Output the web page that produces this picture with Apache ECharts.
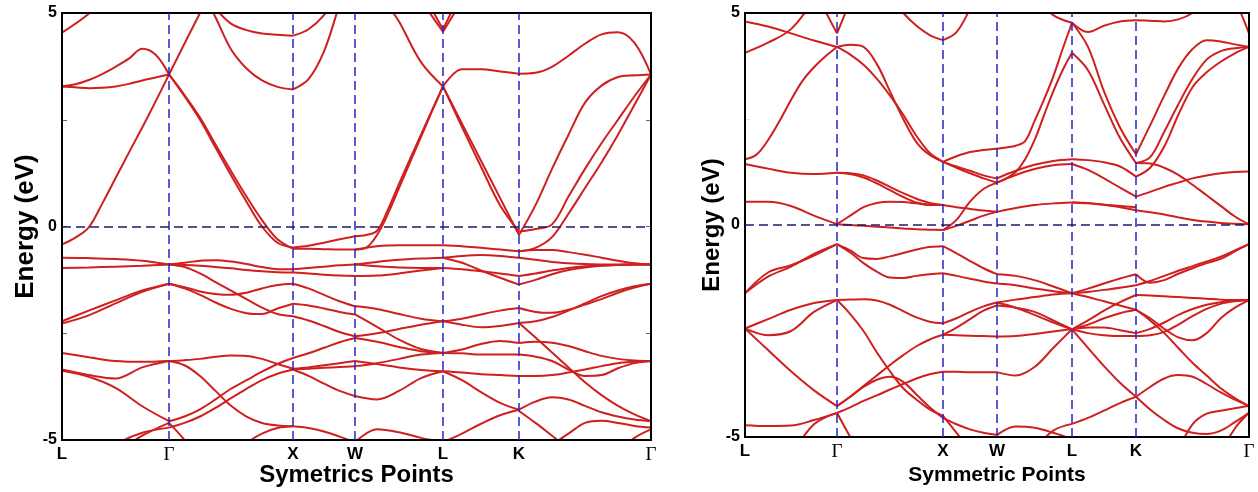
<!DOCTYPE html>
<html>
<head>
<meta charset="utf-8">
<title>Band structure</title>
<script src="https://cdn.jsdelivr.net/npm/echarts@6.0.0/dist/echarts.min.js"></script>
<style>
  html, body { margin: 0; padding: 0; background: #fff; }
  #main { width: 1258px; height: 492px; }
</style>
</head>
<body>
<div id="main"></div>
<script>
// k-path: positions of the high symmetry points along the path
var kLeft = [0, 107, 231, 293, 381, 457, 589];
var kRight = [0, 92, 198, 252, 327, 391, 504];
var kNames = ['L', 'Γ', 'X', 'W', 'L', 'K', 'Γ'];
var energyLabels = [-5, 0, 5];

// ---- left panel: one array per segment, each row = one band (eV), evenly sampled
var leftLG = [
  [4.54, 4.98, 5.6, 6.2, 6.8],
  [3.28, 3.33, 3.43, 3.57, 3.74, 3.93, 4.16, 4.02, 3.56],
  [3.28, 3.26, 3.24, 3.25, 3.28, 3.34, 3.42, 3.49, 3.56],
  [-0.42, -0.26, -0.02, 0.53, 1.13, 1.73, 2.32, 2.93, 3.56],
  [-0.73, -0.74, -0.76, -0.8, -0.89],
  [-0.97, -0.96, -0.94, -0.92, -0.89],
  [-2.22, -1.97, -1.73, -1.5, -1.34],
  [-2.27, -2.08, -1.8, -1.53, -1.34],
  [-2.96, -3.06, -3.15, -3.17, -3.15],
  [-3.35, -3.48, -3.56, -3.3, -3.15],
  [-3.38, -3.52, -3.78, -4.21, -4.56],
  [-5.8, -5.5, -5.1, -4.83, -4.71],
  [-6, -5.7, -5.3, -4.9, -4.6]
];
var leftGX = [
  [3.56, 5.0, 6.4, 7.8, 9],
  [3.56, 3.05, 2.5, 1.85, 1.2, 0.58, 0.0, -0.38, -0.49],
  [3.56, 3.08, 2.55, 1.92, 1.3, 0.7, 0.15, -0.3, -0.52],
  [6.5, 6.0, 5.5, 5.1, 4.75, 4.6, 4.52, 4.49, 4.47],
  [7, 6.3, 5.6, 4.9, 4.15, 3.7, 3.42, 3.27, 3.21],
  [-0.89, -0.85, -0.8, -0.79, -0.82, -0.88, -0.95, -1.0, -1.0],
  [-0.89, -0.9, -0.92, -0.95, -0.98, -1.02, -1.05, -1.07, -1.08],
  [-0.89, -0.95, -1.1, -1.3, -1.5, -1.7, -1.9, -2.05, -2.1],
  [-1.34, -1.42, -1.52, -1.58, -1.6, -1.55, -1.45, -1.37, -1.34],
  [-1.34, -1.45, -1.6, -1.78, -1.93, -2.03, -2.05, -1.92, -1.81],
  [-3.15, -3.13, -3.1, -3.05, -3.02, -3.03, -3.1, -3.22, -3.33],
  [-3.15, -3.25, -3.5, -3.85, -4.2, -4.45, -4.6, -4.66, -4.68],
  [-4.56, -4.45, -4.28, -4.05, -3.8, -3.6, -3.4, -3.22, -3.08],
  [-4.71, -4.6, -4.45, -4.25, -4.02, -3.8, -3.6, -3.45, -3.35],
  [-4.6, -5.0, -5.5, -6, -6.3, -6.5, -6.6, -6.6, -6.6],
  [-7, -7, -7, -6.5, -5.8, -5.1, -4.85, -4.72, -4.68]
];
var leftXW = [
  [4.47, 4.62, 4.95, 5.5, 6],
  [3.21, 3.45, 4.1, 5.2, 6.3],
  [-0.49, -0.45, -0.38, -0.3, -0.23],
  [-0.52, -0.52, -0.53, -0.54, -0.54],
  [-1.0, -0.97, -0.94, -0.91, -0.89],
  [-1.08, -1.1, -1.13, -1.15, -1.16],
  [-1.34, -1.45, -1.6, -1.75, -1.87],
  [-1.81, -1.85, -1.92, -2.0, -2.06],
  [-2.1, -2.2, -2.33, -2.47, -2.57],
  [-3.08, -2.97, -2.84, -2.71, -2.61],
  [-3.33, -3.3, -3.25, -3.2, -3.15],
  [-3.35, -3.33, -3.31, -3.29, -3.27],
  [-3.35, -3.5, -3.68, -3.85, -3.97],
  [-4.68, -4.72, -4.8, -4.92, -5.05]
];
var leftWL = [
  [7, 5.6, 4.8, 3.85, 3.28],
  [8, 7, 6.1, 5.3, 4.56],
  [9, 8, 7, 5.6, 4.62],
  [-0.23, -0.2, -0.1, 0.4, 1.0, 1.58, 2.15, 2.72, 3.28],
  [-0.54, -0.5, -0.2, 0.3, 0.9, 1.5, 2.1, 2.7, 3.28],
  [-0.54, -0.46, -0.44, -0.44, -0.44],
  [-0.89, -0.83, -0.78, -0.75, -0.73],
  [-0.89, -0.93, -0.96, -0.97, -0.97],
  [-1.16, -1.15, -1.1, -1.03, -0.97],
  [-1.87, -1.93, -2.05, -2.16, -2.22],
  [-2.06, -2.35, -2.65, -2.87, -2.96],
  [-2.57, -2.5, -2.4, -2.3, -2.22],
  [-2.61, -2.7, -2.82, -2.92, -2.96],
  [-3.15, -3.22, -3.3, -3.36, -3.39],
  [-3.27, -3.2, -3.1, -3.0, -2.96],
  [-3.97, -4.05, -3.85, -3.55, -3.39],
  [-5.05, -4.75, -4.82, -4.95, -5.05]
];
var leftLK = [
  [3.28, 3.68, 3.68, 3.63, 3.58],
  [3.28, 2.41, 1.54, 0.67, -0.2],
  [3.28, 2.33, 1.4, 0.5, -0.12],
  [4.56, 5.3, 6.1, 7, 8],
  [4.62, 5.6, 7, 8, 9],
  [-0.44, -0.46, -0.5, -0.54, -0.58],
  [-0.73, -0.69, -0.67, -0.69, -0.73],
  [-0.73, -0.85, -1.03, -1.2, -1.36],
  [-0.97, -1.0, -1.05, -1.1, -1.16],
  [-2.22, -2.16, -2.06, -1.97, -1.91],
  [-2.22, -2.3, -2.36, -2.33, -2.26],
  [-2.96, -2.88, -2.75, -2.68, -2.73],
  [-2.96, -2.97, -3.0, -3.0, -3.0],
  [-3.39, -3.42, -3.46, -3.48, -3.5],
  [-3.39, -3.6, -3.88, -4.13, -4.29],
  [-5.05, -4.85, -4.62, -4.42, -4.29]
];
var leftKG = [
  [3.58, 3.6, 3.74, 4.0, 4.28, 4.5, 4.55, 4.3, 3.56],
  [-0.2, 0.5, 1.35, 2.15, 2.9, 3.3, 3.5, 3.54, 3.56],
  [-0.12, -0.06, 0.05, 0.7, 1.35, 1.95, 2.5, 3.05, 3.56],
  [-0.58, -0.5, -0.25, 0.3, 0.9, 1.5, 2.15, 2.85, 3.56],
  [-0.58, -0.55, -0.55, -0.6, -0.66, -0.73, -0.8, -0.86, -0.89],
  [-0.73, -0.78, -0.83, -0.86, -0.88, -0.89, -0.89, -0.89, -0.89],
  [-1.16, -1.1, -1.03, -0.97, -0.93, -0.91, -0.9, -0.89, -0.89],
  [-1.36, -1.25, -1.12, -1.02, -0.96, -0.92, -0.9, -0.89, -0.89],
  [-1.91, -2.0, -2.02, -1.95, -1.83, -1.7, -1.55, -1.43, -1.34],
  [-2.26, -2.22, -2.12, -1.97, -1.8, -1.63, -1.5, -1.4, -1.34],
  [-2.73, -2.7, -2.72, -2.8, -2.92, -3.03, -3.1, -3.14, -3.15],
  [-2.26, -2.6, -2.95, -3.3, -3.65, -3.95, -4.2, -4.4, -4.56],
  [-3.0, -3.05, -3.15, -3.35, -3.5, -3.48, -3.32, -3.2, -3.15],
  [-3.5, -3.5, -3.48, -3.42, -3.35, -3.27, -3.2, -3.17, -3.15],
  [-4.29, -4.1, -4.0, -4.05, -4.2, -4.35, -4.45, -4.52, -4.56],
  [-4.32, -4.6, -4.9, -5.2, -5.5, -5.8, -6, -6, -6],
  [-5.5, -5.3, -5.1, -4.85, -4.6, -4.55, -4.6, -4.67, -4.71],
  [-6, -6, -6, -6, -6, -5.7, -5.3, -4.95, -4.75]
];

// ---- right panel
var rightLG = [
  [4.8, 4.68, 4.52, 4.35, 4.2],
  [4.06, 4.3, 4.62, 5.3, 6.0],
  [1.55, 1.66, 2.0, 2.45, 2.95, 3.4, 3.72, 3.98, 4.2],
  [1.44, 1.33, 1.23, 1.2, 1.23],
  [0.55, 0.55, 0.45, 0.22, 0.02],
  [8, 7.5, 7, 5.6, 4.52],
  [-1.61, -1.22, -0.98, -0.68, -0.45],
  [-1.61, -1.12, -0.95, -0.72, -0.45],
  [-2.44, -2.22, -2.0, -1.84, -1.77],
  [-2.44, -2.6, -2.5, -2.05, -1.77],
  [-2.44, -2.95, -3.45, -3.9, -4.27],
  [-4.72, -4.74, -4.73, -4.6, -4.43],
  [-6.5, -6, -5.4, -4.7, -4.43]
];
var rightGX = [
  [4.52, 5.3, 6.2, 7, 7.5, 7.5, 7.5, 7.5, 7.5],
  [4.2, 4.25, 4.2, 3.8, 3.15, 2.5, 1.95, 1.65, 1.49],
  [4.2, 4.02, 3.78, 3.45, 3.05, 2.6, 2.1, 1.7, 1.49],
  [6.5, 6.3, 6.1, 5.8, 5.4, 5.0, 4.7, 4.48, 4.36],
  [1.23, 1.22, 1.17, 1.05, 0.9, 0.75, 0.62, 0.52, 0.47],
  [1.23, 1.2, 1.12, 0.98, 0.82, 0.66, 0.53, 0.47, 0.47],
  [0.02, 0.22, 0.42, 0.52, 0.55, 0.54, 0.51, 0.48, 0.47],
  [0.02, 0.0, -0.02, -0.04, -0.06, -0.08, -0.1, -0.11, -0.12],
  [-0.45, -0.6, -0.78, -0.8, -0.74, -0.66, -0.58, -0.52, -0.5],
  [-0.45, -0.65, -0.9, -1.1, -1.24, -1.25, -1.2, -1.16, -1.14],
  [-1.77, -1.76, -1.75, -1.78, -1.88, -2.03, -2.18, -2.28, -2.32],
  [-1.77, -2.1, -2.5, -3.0, -3.45, -3.85, -4.12, -4.35, -4.5],
  [-4.27, -4.05, -3.82, -3.65, -3.58, -3.7, -4.0, -4.3, -4.55],
  [-4.43, -4.3, -4.15, -4.02, -3.88, -3.75, -3.62, -3.52, -3.46],
  [-4.27, -4.05, -3.8, -3.55, -3.3, -3.07, -2.86, -2.7, -2.59],
  [-4.43, -5.0, -5.5, -6, -6.3, -6.5, -6.5, -6.5, -6.5]
];
var rightXW = [
  [4.36, 4.55, 5.1, 5.8, 6.5],
  [1.49, 1.62, 1.72, 1.77, 1.8],
  [1.49, 1.35, 1.22, 1.1, 1.0],
  [1.49, 1.38, 1.28, 1.17, 1.1],
  [-0.12, 0.12, 0.55, 0.85, 1.0],
  [0.47, 0.42, 0.38, 0.34, 0.31],
  [-0.12, -0.02, 0.1, 0.22, 0.31],
  [-0.5, -0.67, -0.85, -1.02, -1.16],
  [-1.14, -1.2, -1.27, -1.33, -1.38],
  [-2.32, -2.2, -2.05, -1.92, -1.83],
  [-2.59, -2.6, -2.61, -2.62, -2.63],
  [-2.59, -2.42, -2.22, -2.02, -1.9],
  [-3.46, -3.46, -3.47, -3.47, -3.47],
  [-4.5, -4.9, -5.3, -5.7, -6],
  [-4.55, -4.7, -4.82, -4.9, -4.95]
];
var rightWL = [
  [1.8, 1.83, 1.87, 1.98, 2.45, 2.95, 3.5, 4.15, 4.77],
  [1.0, 1.1, 1.25, 1.55, 2.0, 2.58, 3.15, 3.65, 4.06],
  [1.1, 1.28, 1.42, 1.51, 1.55],
  [1.0, 1.18, 1.32, 1.41, 1.44],
  [0.31, 0.4, 0.47, 0.51, 0.53],
  [7, 6.2, 5.4, 4.95, 4.77],
  [-1.16, -1.2, -1.3, -1.45, -1.61],
  [-1.38, -1.42, -1.5, -1.56, -1.61],
  [-1.83, -1.76, -1.7, -1.64, -1.61],
  [-1.83, -1.95, -2.12, -2.3, -2.46],
  [-1.9, -1.95, -2.05, -2.25, -2.46],
  [-2.63, -2.62, -2.57, -2.51, -2.46],
  [-3.47, -3.55, -3.35, -2.9, -2.46],
  [-4.95, -4.75, -4.78, -4.9, -5.05],
  [-6, -6, -5.3, -4.85, -4.69]
];
var rightLK = [
  [4.77, 4.55, 4.7, 4.8, 4.83],
  [4.77, 4.2, 3.15, 2.3, 1.67],
  [4.06, 3.65, 2.85, 2.05, 1.46],
  [1.55, 1.53, 1.48, 1.38, 1.14],
  [1.44, 1.3, 1.1, 0.88, 0.67],
  [0.53, 0.52, 0.48, 0.42, 0.35],
  [0.53, 0.51, 0.48, 0.45, 0.42],
  [-1.61, -1.5, -1.38, -1.26, -1.16],
  [-1.61, -1.58, -1.53, -1.48, -1.42],
  [-1.61, -1.7, -1.8, -1.9, -2.0],
  [-2.46, -2.25, -2.02, -1.82, -1.65],
  [-2.46, -2.35, -2.2, -2.08, -2.0],
  [-2.46, -2.42, -2.42, -2.48, -2.55],
  [-2.46, -2.55, -2.6, -2.62, -2.62],
  [-2.46, -2.9, -3.33, -3.72, -4.05],
  [-4.69, -4.55, -4.38, -4.2, -4.05]
];
var rightKG = [
  [4.83, 4.82, 4.8, 4.85, 5.0, 5.3, 5.7, 6.2, 6.6],
  [6, 6, 6, 6, 6, 6, 5.8, 5.3, 4.52],
  [1.67, 2.35, 3.05, 3.7, 4.15, 4.36, 4.33, 4.26, 4.2],
  [1.46, 1.6, 2.2, 2.85, 3.45, 3.9, 4.1, 4.17, 4.2],
  [1.14, 1.35, 1.85, 2.6, 3.25, 3.6, 3.85, 4.05, 4.2],
  [1.46, 1.45, 1.35, 1.18, 0.95, 0.7, 0.45, 0.2, 0.02],
  [0.67, 0.78, 0.9, 1.0, 1.1, 1.17, 1.22, 1.25, 1.26],
  [0.35, 0.3, 0.25, 0.18, 0.12, 0.08, 0.05, 0.03, 0.02],
  [-1.16, -1.36, -1.3, -1.15, -1.02, -0.9, -0.8, -0.62, -0.45],
  [-1.42, -1.32, -1.2, -1.08, -0.97, -0.86, -0.75, -0.6, -0.45],
  [-1.65, -1.66, -1.68, -1.7, -1.72, -1.74, -1.76, -1.77, -1.77],
  [-2.0, -2.2, -2.45, -2.65, -2.72, -2.55, -2.2, -1.95, -1.77],
  [-2.0, -2.25, -2.55, -2.9, -3.25, -3.55, -3.85, -4.08, -4.27],
  [-2.55, -2.45, -2.3, -2.12, -1.98, -1.88, -1.82, -1.79, -1.77],
  [-2.62, -2.6, -2.52, -2.35, -2.15, -1.98, -1.86, -1.8, -1.77],
  [-4.05, -3.82, -3.62, -3.54, -3.58, -3.75, -3.95, -4.12, -4.27],
  [-4.05, -4.35, -4.6, -4.8, -4.9, -4.93, -4.85, -4.65, -4.43],
  [-6, -6, -6, -5.3, -4.7, -4.45, -4.38, -4.32, -4.27],
  [-7, -7, -7, -7, -7, -6.5, -5.4, -4.8, -4.43]
];

var leftSegments = [leftLG, leftGX, leftXW, leftWL, leftLK, leftKG];
var rightSegments = [rightLG, rightGX, rightXW, rightWL, rightLK, rightKG];

var bandColor = '#cf1f1f';

function bandSeries(segments, k, axisIdx) {
  var out = [];
  segments.forEach(function (bands, s) {
    var x0 = k[s], x1 = k[s + 1];
    bands.forEach(function (band) {
      var n = band.length;
      out.push({
        type: 'line',
        xAxisIndex: axisIdx,
        yAxisIndex: axisIdx,
        data: band.map(function (e, i) { return [x0 + (x1 - x0) * i / (n - 1), e]; }),
        showSymbol: false,
        smooth: 0.35,
        clip: true,
        silent: true,
        lineStyle: { color: bandColor, width: 2 },
        z: 3
      });
    });
  });
  // dashed guides at the inner k-points and at the Fermi level
  var guides = k.slice(1, -1).map(function (v) {
    return { xAxis: v, lineStyle: { color: '#2424c4', type: [9, 5], width: 1.5 } };
  });
  guides.push({ yAxis: 0, lineStyle: { color: '#1c1c70', type: [9, 5], width: 1.5 } });
  out[0].markLine = {
    silent: true,
    symbol: 'none',
    label: { show: false },
    animation: false,
    data: guides
  };
  return out;
}

function kAxis(k, gridIdx, title, titleSize, gap) {
  return {
    type: 'value',
    gridIndex: gridIdx,
    min: k[0],
    max: k[k.length - 1],
    axisLine: { show: false },
    axisTick: { show: false },
    splitLine: { show: false },
    axisLabel: {
      customValues: k,
      margin: 6,
      formatter: function (v) {
        var name = kNames[k.indexOf(v)];
        return name === 'Γ' ? '{g|Γ}' : '{b|' + name + '}';
      },
      rich: {
        b: { fontSize: 17, fontWeight: 'bold', color: '#000', fontFamily: 'Liberation Sans' },
        g: { fontSize: 19, fontWeight: 'normal', color: '#000', fontFamily: 'Liberation Serif' }
      }
    },
    name: title,
    nameLocation: 'middle',
    nameGap: gap,
    nameMoveOverlap: false,
    nameTextStyle: { fontSize: titleSize, fontWeight: 'bold', color: '#000', fontFamily: 'Liberation Sans' }
  };
}

function energyAxis(gridIdx, titleSize, gap, tickColor) {
  return {
    type: 'value',
    gridIndex: gridIdx,
    min: -5,
    max: 5,
    interval: 2.5,
    axisLine: { show: false },
    splitLine: { show: false },
    axisTick: { show: true, inside: true, length: 5, lineStyle: { color: tickColor } },
    axisLabel: {
      margin: 5,
      fontSize: 16,
      fontWeight: 'bold',
      color: '#000',
      formatter: function (v) { return energyLabels.indexOf(v) >= 0 ? String(v) : ''; }
    },
    name: 'Energy (eV)',
    nameLocation: 'middle',
    nameGap: gap,
    nameMoveOverlap: false,
    nameTextStyle: { fontSize: titleSize, fontWeight: 'bold', color: '#000', fontFamily: 'Liberation Sans' }
  };
}

var chart = echarts.init(document.getElementById('main'), null, { renderer: 'canvas' });
chart.setOption({
  animation: false,
  backgroundColor: '#fff',
  textStyle: { fontFamily: 'Liberation Sans' },
  grid: [
    { left: 62, top: 13, width: 589, height: 427, outerBoundsMode: 'none', containLabel: false,
      show: true, borderColor: '#000', borderWidth: 2, backgroundColor: 'transparent', z: 5 },
    { left: 745, top: 13, width: 504, height: 424, outerBoundsMode: 'none', containLabel: false,
      show: true, borderColor: '#000', borderWidth: 2, backgroundColor: 'transparent', z: 5 }
  ],
  xAxis: [
    kAxis(kLeft, 0, 'Symetrics Points', 24, 23),
    kAxis(kRight, 1, 'Symmetric Points', 21, 28)
  ],
  yAxis: [
    energyAxis(0, 26, 23, '#666'),
    energyAxis(1, 24, 21, '#e6e6a8'),
    {
      type: 'value', gridIndex: 0, position: 'right', min: -5, max: 5, interval: 2.5,
      axisLine: { show: false }, splitLine: { show: false }, axisLabel: { show: false },
      axisTick: { show: true, inside: true, length: 5, lineStyle: { color: '#666' } }
    }
  ],
  series: bandSeries(leftSegments, kLeft, 0).concat(bandSeries(rightSegments, kRight, 1))
});
</script>
</body>
</html>
